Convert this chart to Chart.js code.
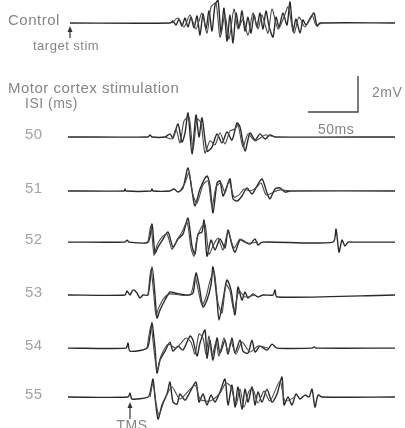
<!DOCTYPE html>
<html>
<head>
<meta charset="utf-8">
<script src="https://cdn.jsdelivr.net/npm/chart.js@4.4.1/dist/chart.umd.min.js"></script>
<style>
  html, body { margin: 0; padding: 0; background: #fff; }
  #wrap { width: 405px; height: 428px; position: relative; }
</style>
</head>
<body>
<div id="wrap"><canvas id="chart"></canvas></div>
<script>
// time in ms after target stim, amplitude in mV (two superimposed sweeps per row)
const ctrlMsA = [0,100,103,106,109,112,115,118,121,124,127,130,133,136,139,142,145,148,151,154,157,160,163,166,169,172,175,178,181,184,187,190,193,196,199,203,206,209,213,217,220,223,226,230,233,236,240,244,247,250,325];
const ctrlMvA = [0,0,0.11,-0.11,0.22,-0.17,0.28,-0.22,0.33,-0.28,0.39,-0.67,0.5,-0.33,0.67,-0.44,1.0,1.28,-0.56,0.83,-1.0,0.44,-1.11,0.56,-0.28,0.67,-0.44,0.33,-0.56,0.44,-0.22,0.56,-0.33,0.67,-0.17,-0.78,0.33,-0.22,0.56,-0.11,1.17,-0.44,0.22,-0.56,0.17,-0.11,0.22,0.56,-0.17,0,0];
const ctrlMsB = [102,108,114,120,126,132,137,141,146,150,155,159,164,168,173,178,183,188,192,198,202,208,214,218,224,229,235,242,246,252];
const ctrlMvB = [0,0.28,-0.22,0.44,-0.33,0.56,-0.56,0.89,1.11,-0.78,0.44,-0.89,0.78,-0.33,0.22,-0.67,0.56,-0.33,0.44,-0.56,0.78,-0.33,0.33,0.89,-0.56,0.33,-0.22,0.44,-0.11,0];

const isi50MsA = [-2,78,80,82,95,100,103,108,112,115,118,122,126,129,132,137,142,147,152,157,162,167,170,175,180,185,190,195,200,205,325];
const isi50MvA = [0,0,0.11,0,0,0.17,-0.06,0.72,-0.28,0.22,1.33,-0.94,1.22,0,1.06,-0.78,-0.56,0.17,-0.33,0.28,-0.17,0.78,0.56,-0.78,0.22,-0.17,0.17,-0.11,0.11,0,0];
const isi50MsB = [95,102,106,110,114,119,123,127,131,135,140,145,150,155,160,165,168,173,178,185,195,205];
const isi50MvB = [0,-0.11,0.44,-0.33,0.89,1.11,-0.67,1.0,0.78,-0.89,-0.22,-0.44,0.22,-0.39,0.33,0.44,0.67,-0.56,0.17,-0.22,0.11,0];

const isi51MsA = [-2,54,55,56,81,82,83,100,104,108,113,118,122,125,130,137,140,143,147,150,153,157,160,163,167,172,177,182,187,192,197,200,205,210,215,220,325];
const isi51MvA = [0,0,0.11,0,0,0.11,0,0,0.11,-0.06,0.17,1.28,0,-0.83,0.11,0.83,0.28,-1.22,0.44,0.56,-0.28,0.28,0.67,-0.44,-0.56,-0.28,0.17,-0.17,0.28,0.67,-0.11,-0.44,0.11,0.17,-0.06,0,0];
const isi51MsB = [110,115,119,123,127,133,138,142,146,151,155,159,164,169,174,180,186,191,196,202,210,220];
const isi51MvB = [0,0.44,1.0,-0.22,-0.67,0.33,0.56,-0.89,0.22,0.44,-0.11,0.56,-0.33,-0.22,0.11,0,0.17,0.44,-0.22,-0.11,0.06,0];

const isi52MsA = [-2,55,57,59,78,82,85,88,93,98,103,108,113,118,122,125,128,132,134,137,141,145,150,155,158,162,165,170,175,180,185,188,192,263,266,269,272,275,278,282,325];
const isi52MvA = [0,0,0.11,0,0,1.0,-0.61,-0.28,0.17,0.56,-0.28,0.17,0.44,1.33,-0.22,-0.67,0.44,0.56,1.22,-0.78,0.11,-0.44,0.17,-0.33,0.67,-0.17,-0.56,0.11,0,-0.11,0.17,-0.17,0,0,0.72,-0.56,0.11,-0.22,0,0,0];
const isi52MsB = [78,81,84,87,92,97,102,107,112,117,121,124,127,131,135,139,143,148,153,158,164,170,178,188];
const isi52MvB = [0,0.89,-0.72,-0.17,0.28,0.44,-0.39,0.11,0.56,1.11,-0.33,-0.78,0.22,0.78,1.0,-0.67,-0.22,0.22,-0.44,0.56,-0.33,0.17,-0.06,0];

const isi53MsA = [-2,55,57,60,63,67,70,73,78,82,85,87,90,95,100,105,117,123,126,129,133,137,141,143,147,149,153,157,161,165,168,172,175,178,183,188,193,203,205,207,325];
const isi53MvA = [0,0,0.22,0,0.28,0.11,-0.17,0,0,1.56,0,-1.28,-0.83,-0.28,0.17,0.11,0,0.11,1.22,0.56,-0.67,-0.28,0.56,1.56,-0.28,-1.39,-0.28,0.83,0.28,-1.11,0.44,-0.28,0.17,-0.17,0.06,-0.11,0,0,0.28,-0.11,0];
const isi53MsB = [78,81,84,86,89,94,100,120,125,128,132,136,140,144,148,152,156,160,164,169,175,185];
const isi53MvB = [0,1.39,-0.11,-1.11,-0.67,-0.17,0.06,0,1.0,0.33,-0.56,-0.11,0.78,1.33,-0.44,-1.0,0.56,0.22,-0.89,0.22,-0.11,0];

const isi54MsA = [-2,56,58,60,77,80,82,85,87,90,95,100,103,108,113,120,123,127,130,135,137,140,143,147,150,155,158,162,165,170,173,178,182,185,190,197,202,207,242,244,246,325];
const isi54MvA = [0,0,0.28,-0.17,0,0.67,1.39,0,-1.39,-0.67,-0.17,0.33,-0.17,0.11,-0.11,0.67,0.44,-0.44,0.28,1.0,-0.56,0.44,-0.67,0.56,-0.28,0.44,-0.33,0.56,-0.28,0.44,-0.17,-0.28,0.44,-0.22,0.11,-0.11,0.22,0,0,0.06,0,0];
const isi54MsB = [77,81,84,87,91,98,106,116,121,125,129,133,136,139,142,146,149,154,158,161,166,172,180,188,198];
const isi54MvB = [0,1.22,-0.11,-1.22,-0.44,0.22,0,0.56,0.33,-0.33,0.78,0.56,-0.33,0.67,-0.44,0.33,-0.44,0.56,-0.22,0.33,-0.33,0.33,-0.22,0.11,0];

const isi55MsA = [-2,58,60,62,78,80,83,85,88,92,97,100,103,107,110,115,120,126,129,133,137,141,145,150,155,158,162,165,168,172,175,178,182,185,188,192,197,202,207,212,214,218,222,226,230,235,239,242,245,248,252,325];
const isi55MvA = [0,0,0.22,-0.11,0,0.22,1.0,0,-1.22,-0.44,0.17,0.83,-0.28,-0.39,0.17,-0.17,0.28,0.83,-0.28,0.17,-0.44,0.11,-0.28,0.28,1.0,-0.44,0.67,-0.56,0.56,-0.67,0.44,-0.28,0.56,-0.44,0.28,-0.28,0.44,-0.28,0.17,1.11,-0.44,0,-0.44,0.17,-0.11,0.11,0,0.44,-0.56,0.11,0,0];
const isi55MsB = [80,83,86,89,94,102,110,125,130,140,150,156,161,166,170,174,179,183,188,194,200,210,215,225];
const isi55MvB = [0,0.78,-0.33,-1.0,-0.22,0.56,-0.11,0.67,-0.11,-0.22,0.22,0.78,0.56,-0.44,0.44,-0.56,0.33,0.44,-0.33,0.33,-0.22,0.89,-0.22,0];

const isiLabels = ['50', '51', '52', '53', '54', '55'];
const scaleBarMs = 50;
const scaleBarMv = 2;

// layout: vertical offset (mV) of each row's baseline
const rowOffset = { control: 22.5, '50': 16.17, '51': 13.17, '52': 10.33, '53': 7.39, '54': 4.44, '55': 1.72 };
const barCorner = { x: 288, y: 17.56 };

function trace(ms, mv, offset, color, width) {
  return {
    data: ms.map((t, i) => ({ x: t, y: mv[i] + offset })),
    borderColor: color,
    borderWidth: width,
    pointRadius: 0,
    tension: 0.25,
    fill: false
  };
}

const rows = [
  ['control', ctrlMsA, ctrlMvA, ctrlMsB, ctrlMvB],
  ['50', isi50MsA, isi50MvA, isi50MsB, isi50MvB],
  ['51', isi51MsA, isi51MvA, isi51MsB, isi51MvB],
  ['52', isi52MsA, isi52MvA, isi52MsB, isi52MvB],
  ['53', isi53MsA, isi53MvA, isi53MsB, isi53MvB],
  ['54', isi54MsA, isi54MvA, isi54MsB, isi54MvB],
  ['55', isi55MsA, isi55MvA, isi55MsB, isi55MvB]
];

const datasets = [];
rows.forEach(([key, msA, mvA, msB, mvB]) => {
  datasets.push(trace(msB, mvB, rowOffset[key], '#4a4a4a', 1.1));
  datasets.push(trace(msA, mvA, rowOffset[key], '#2a2a2a', 1.4));
});

datasets.push({
  data: [
    { x: barCorner.x - scaleBarMs, y: barCorner.y },
    { x: barCorner.x, y: barCorner.y },
    { x: barCorner.x, y: barCorner.y + scaleBarMv }
  ],
  borderColor: '#444444',
  borderWidth: 1.4,
  pointRadius: 0,
  tension: 0,
  fill: false
});

const FONT = '"Liberation Sans", Arial, sans-serif';

function arrowUp(ctx, x, yBottom, yTop) {
  ctx.beginPath();
  ctx.moveTo(x, yBottom);
  ctx.lineTo(x, yTop + 4);
  ctx.stroke();
  ctx.beginPath();
  ctx.moveTo(x, yTop);
  ctx.lineTo(x - 2.5, yTop + 6);
  ctx.lineTo(x + 2.5, yTop + 6);
  ctx.closePath();
  ctx.fill();
}

const annotations = {
  id: 'annotations',
  afterDatasetsDraw(chart) {
    const { ctx, scales: { x, y } } = chart;
    ctx.save();
    ctx.textBaseline = 'middle';
    ctx.textAlign = 'left';

    ctx.fillStyle = '#858585';
    ctx.font = '15px ' + FONT;
    ctx.letterSpacing = '0.5px';
    ctx.fillText('Control', x.getPixelForValue(-62), y.getPixelForValue(rowOffset.control + 0.12));
    ctx.fillText('Motor cortex stimulation', x.getPixelForValue(-62), y.getPixelForValue(18.85));
    ctx.font = '14px ' + FONT;
    ctx.fillText('ISI (ms)', x.getPixelForValue(-45), y.getPixelForValue(18.0));
    ctx.font = '13px ' + FONT;
    ctx.fillText('target stim', x.getPixelForValue(-37), y.getPixelForValue(21.22));

    ctx.fillStyle = '#a3a3a3';
    ctx.font = '15px ' + FONT;
    isiLabels.forEach(lbl => {
      ctx.fillText(lbl, x.getPixelForValue(-45), y.getPixelForValue(rowOffset[lbl] + 0.1));
    });

    ctx.fillStyle = '#858585';
    ctx.font = '14px ' + FONT;
    ctx.fillText('2mV', x.getPixelForValue(barCorner.x + 14), y.getPixelForValue(barCorner.y + scaleBarMv / 2 + 0.05));
    ctx.fillText('50ms', x.getPixelForValue(barCorner.x - 40), y.getPixelForValue(barCorner.y - 1.0));
    ctx.textAlign = 'center';
    ctx.textBaseline = 'top';
    ctx.fillText('TMS', x.getPixelForValue(62), y.getPixelForValue(0.47));

    ctx.strokeStyle = '#333';
    ctx.fillStyle = '#333';
    ctx.lineWidth = 1.2;
    arrowUp(ctx, x.getPixelForValue(0), y.getPixelForValue(21.67), y.getPixelForValue(22.33));
    arrowUp(ctx, x.getPixelForValue(60), y.getPixelForValue(0.5), y.getPixelForValue(1.45));
    ctx.restore();
  }
};

new Chart(document.getElementById('chart').getContext('2d'), {
  type: 'line',
  data: { datasets },
  options: {
    responsive: true,
    maintainAspectRatio: false,
    animation: false,
    layout: { padding: 0 },
    plugins: { legend: { display: false }, tooltip: { enabled: false } },
    scales: {
      x: { type: 'linear', min: -70, max: 335, display: false },
      y: { min: 0, max: 23.78, display: false }
    }
  },
  plugins: [annotations]
});
</script>
</body>
</html>
